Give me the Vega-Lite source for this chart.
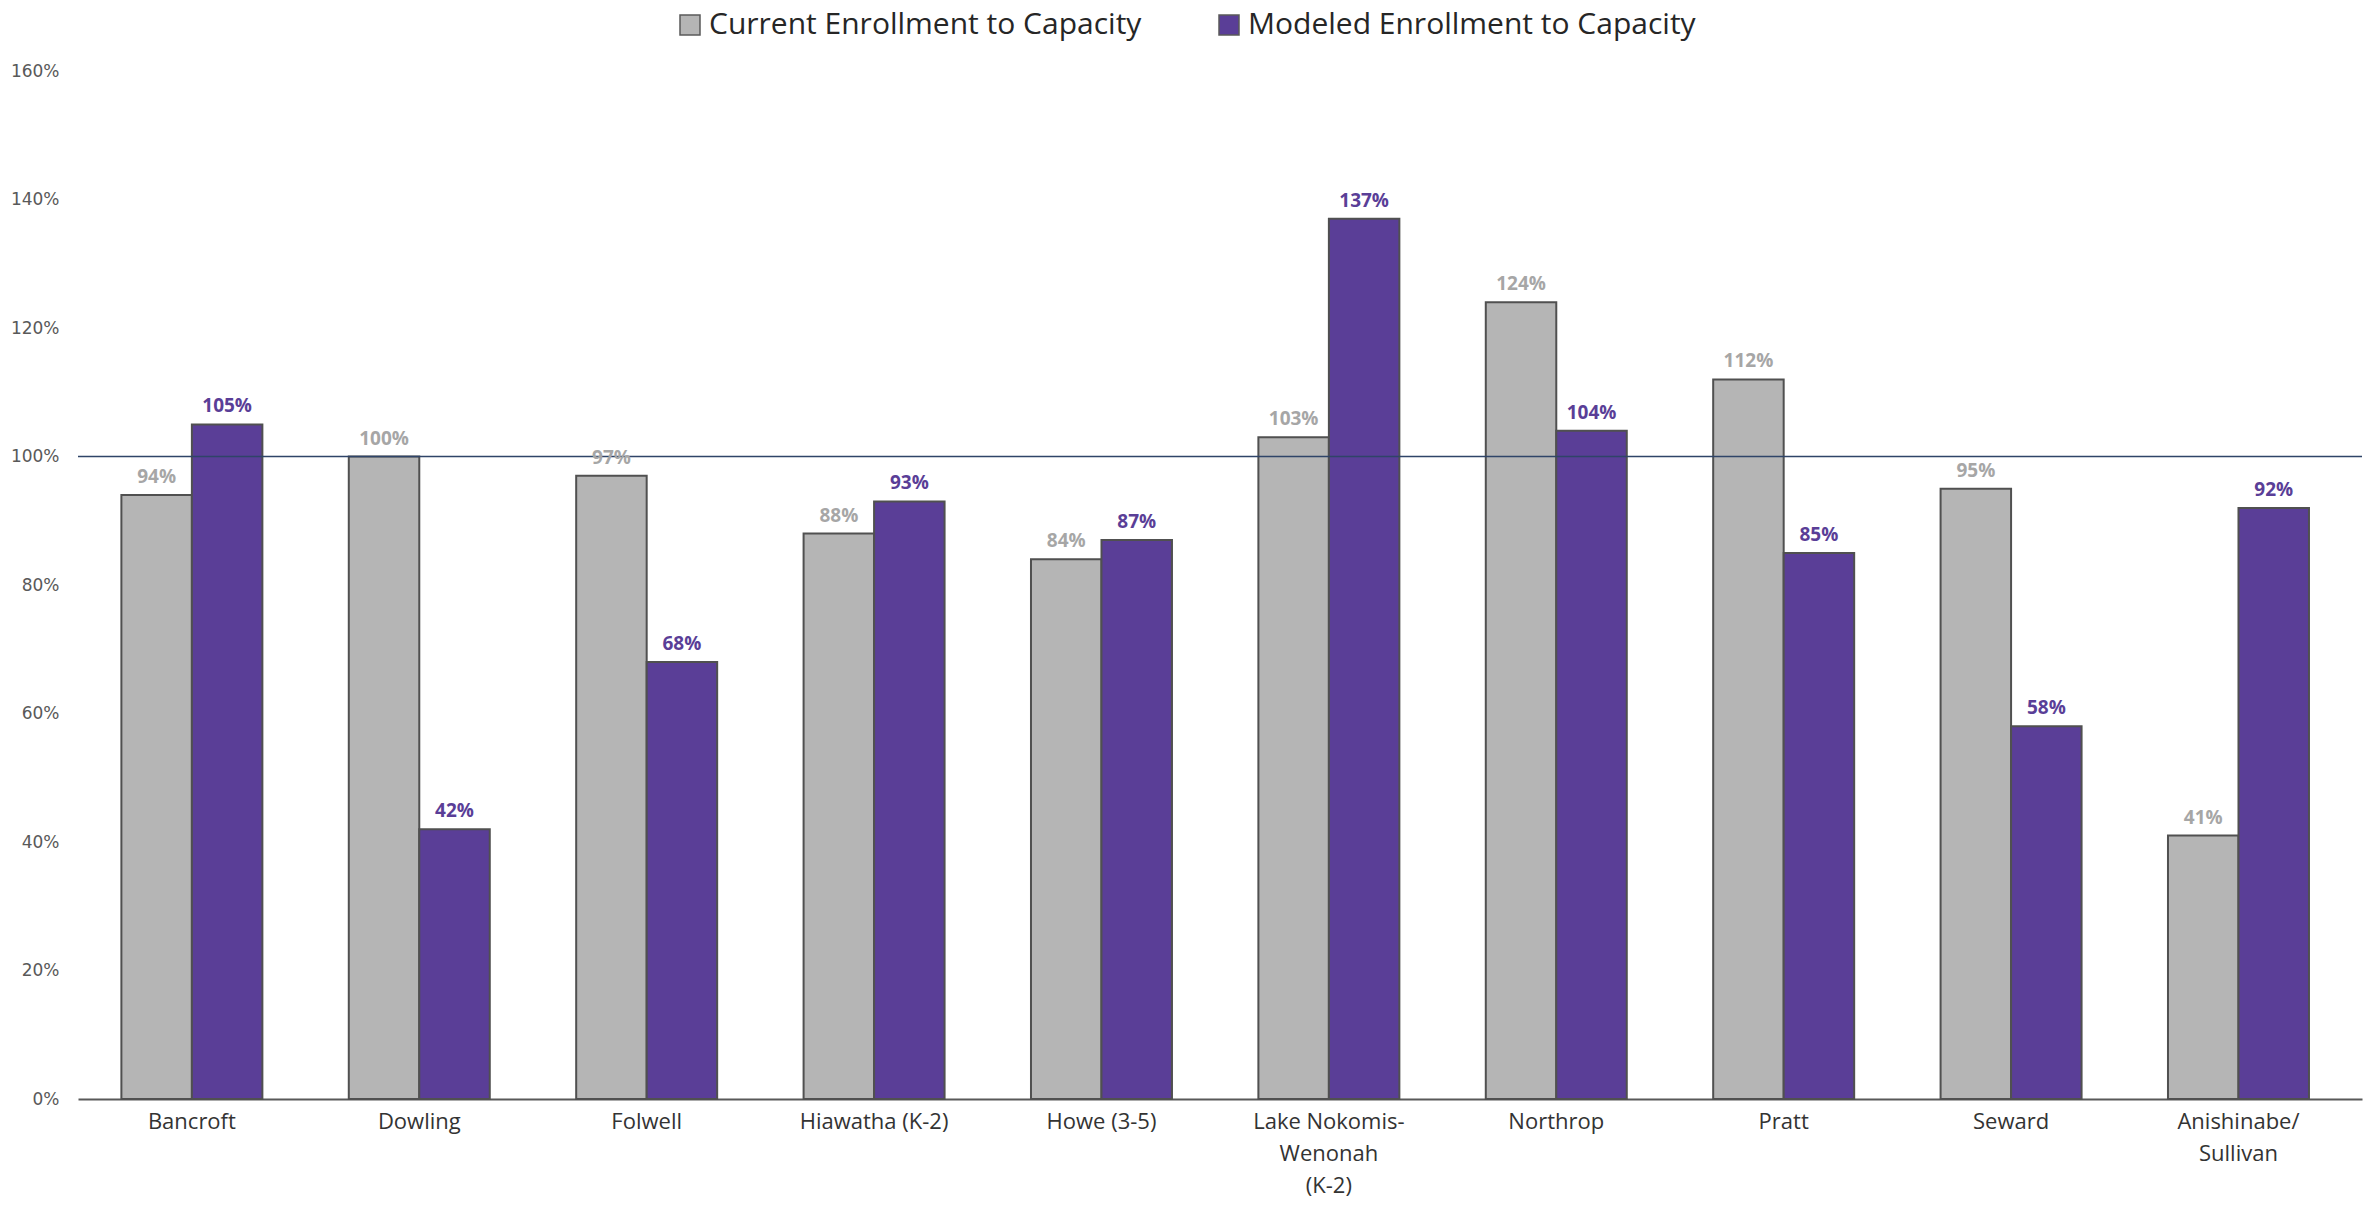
{
  "$schema": "https://vega.github.io/schema/vega-lite/v6.json",
  "width": 2284,
  "height": 1028,
  "autosize": {"type": "none"},
  "padding": {"left": 78, "top": 71, "right": 12, "bottom": 111},
  "background": "white",
  "config": {"view": {"stroke": null}},
  "data": {
    "values": [
      {"school": "Bancroft", "series": "Current Enrollment to Capacity", "value": 0.94},
      {"school": "Bancroft", "series": "Modeled Enrollment to Capacity", "value": 1.05},
      {"school": "Dowling", "series": "Current Enrollment to Capacity", "value": 1.00},
      {"school": "Dowling", "series": "Modeled Enrollment to Capacity", "value": 0.42},
      {"school": "Folwell", "series": "Current Enrollment to Capacity", "value": 0.97},
      {"school": "Folwell", "series": "Modeled Enrollment to Capacity", "value": 0.68},
      {"school": "Hiawatha (K-2)", "series": "Current Enrollment to Capacity", "value": 0.88},
      {"school": "Hiawatha (K-2)", "series": "Modeled Enrollment to Capacity", "value": 0.93},
      {"school": "Howe (3-5)", "series": "Current Enrollment to Capacity", "value": 0.84},
      {"school": "Howe (3-5)", "series": "Modeled Enrollment to Capacity", "value": 0.87},
      {"school": "Lake Nokomis-Wenonah (K-2)", "series": "Current Enrollment to Capacity", "value": 1.03},
      {"school": "Lake Nokomis-Wenonah (K-2)", "series": "Modeled Enrollment to Capacity", "value": 1.37},
      {"school": "Northrop", "series": "Current Enrollment to Capacity", "value": 1.24},
      {"school": "Northrop", "series": "Modeled Enrollment to Capacity", "value": 1.04},
      {"school": "Pratt", "series": "Current Enrollment to Capacity", "value": 1.12},
      {"school": "Pratt", "series": "Modeled Enrollment to Capacity", "value": 0.85},
      {"school": "Seward", "series": "Current Enrollment to Capacity", "value": 0.95},
      {"school": "Seward", "series": "Modeled Enrollment to Capacity", "value": 0.58},
      {"school": "Anishinabe/Sullivan", "series": "Current Enrollment to Capacity", "value": 0.41},
      {"school": "Anishinabe/Sullivan", "series": "Modeled Enrollment to Capacity", "value": 0.92}
    ]
  },
  "encoding": {
    "x": {
      "field": "school",
      "type": "nominal",
      "sort": null,
      "scale": {"paddingInner": 0.38, "paddingOuter": 0.212, "align": 0.45},
      "axis": {
        "title": null,
        "labelAngle": 0,
        "ticks": false,
        "domainColor": "#595959",
        "domainWidth": 2,
        "labelFont": "Open Sans",
        "labelFontSize": 22,
        "labelColor": "#333333",
        "labelPadding": 12,
        "labelLineHeight": 32,
        "labelBaseline": "top",
        "labelExpr": "datum.label == 'Lake Nokomis-Wenonah (K-2)' ? ['Lake Nokomis-', 'Wenonah', '(K-2)'] : datum.label == 'Anishinabe/Sullivan' ? ['Anishinabe/', 'Sullivan'] : datum.label"
      }
    },
    "xOffset": {
      "field": "series",
      "type": "nominal",
      "scale": {"domain": ["Current Enrollment to Capacity", "Modeled Enrollment to Capacity"], "paddingInner": 0}
    },
    "y": {
      "field": "value",
      "type": "quantitative",
      "scale": {"domain": [0, 1.6], "nice": false},
      "axis": {
        "title": null,
        "values": [0, 0.2, 0.4, 0.6, 0.8, 1.0, 1.2, 1.4, 1.6],
        "format": ".0%",
        "domain": false,
        "ticks": false,
        "grid": false,
        "labelFont": "DejaVu Sans",
        "labelFontSize": 17,
        "labelColor": "#595959",
        "labelPadding": 19
      }
    }
  },
  "layer": [
    {
      "mark": {"type": "bar", "stroke": "#505050", "strokeWidth": 2},
      "encoding": {
        "color": {
          "field": "series",
          "type": "nominal",
          "scale": {"domain": ["Current Enrollment to Capacity", "Modeled Enrollment to Capacity"], "range": ["#B5B5B5", "#5A3E97"]},
          "legend": {
            "title": null,
            "orient": "none",
            "direction": "horizontal",
            "legendX": 597,
            "legendY": -61,
            "symbolType": "square",
            "symbolSize": 400,
            "symbolStrokeColor": "#595959",
            "symbolStrokeWidth": 1.5,
            "labelFont": "Open Sans",
            "labelFontSize": 30,
            "labelColor": "#262626",
            "labelOffset": 4,
            "columnPadding": 72,
            "labelLimit": 1000
          }
        }
      }
    },
    {
      "mark": {"type": "rule", "color": "#2F4468", "strokeWidth": 1.5},
      "data": {"values": [{"ref": 1.0}]},
      "encoding": {
        "y": {"field": "ref", "type": "quantitative"},
        "x": null,
        "xOffset": null
      }
    },
    {
      "mark": {"type": "text", "baseline": "bottom", "dy": -8, "font": "Open Sans", "fontSize": 19, "fontWeight": "bold"},
      "encoding": {
        "text": {"field": "value", "type": "quantitative", "format": ".0%"},
        "color": {
          "condition": {"test": "datum.series == 'Current Enrollment to Capacity'", "value": "#A6A6A6"},
          "value": "#5A3E97"
        }
      }
    }
  ]
}
